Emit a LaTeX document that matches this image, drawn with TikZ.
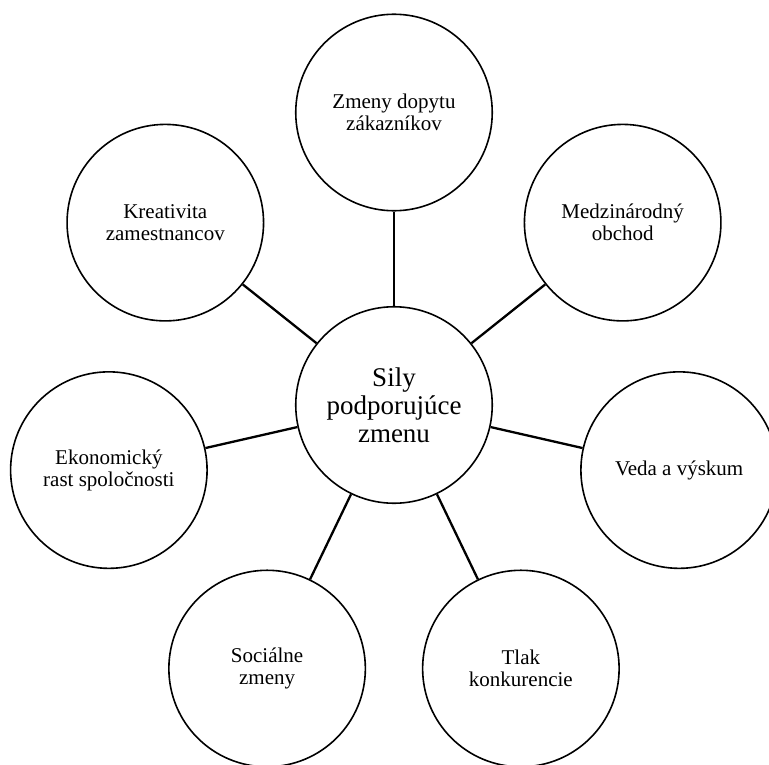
\documentclass[tikz,border=0pt]{standalone}
\usepackage{fontspec}
\setmainfont{Liberation Serif}
\begin{document}
\begin{tikzpicture}[x=1pt,y=1pt,
  bubble/.style={circle, draw, line width=1.6pt, minimum size=196.5pt,
    inner sep=0pt, align=center, font=\fontsize{21}{22}\selectfont},
  hub/.style={bubble, font=\fontsize{27}{28}\selectfont},
  link/.style={line width=2.3pt}]
% page frame; the outer circles run past its edges
\useasboundingbox (-394,-359) rectangle (375,405);
\clip (-394,-359) rectangle (375,405);
% central circle and its seven satellites, spaced evenly round it
\node[hub] (c) at (0,0) {Sily\\podporujúce\\zmenu};
\node[bubble] (s1) at (90:292.5) {Zmeny dopytu\\zákazníkov};
\node[bubble] (s2) at (38.57:292.5) {Medzinárodný\\obchod};
\node[bubble] (s3) at (-12.86:292.5) {Veda a výskum};
\node[bubble] (s4) at (-64.29:292.5) {Tlak\\konkurencie};
\node[bubble] (s5) at (-115.71:292.5) {Sociálne\\zmeny};
\node[bubble] (s6) at (-167.14:292.5) {Ekonomický\\rast spoločnosti};
\node[bubble] (s7) at (141.43:292.5) {Kreativita\\zamestnancov};
% spokes
\foreach \i in {1,...,7}
  \draw[link] (c) -- (s\i);
\end{tikzpicture}
\end{document}
